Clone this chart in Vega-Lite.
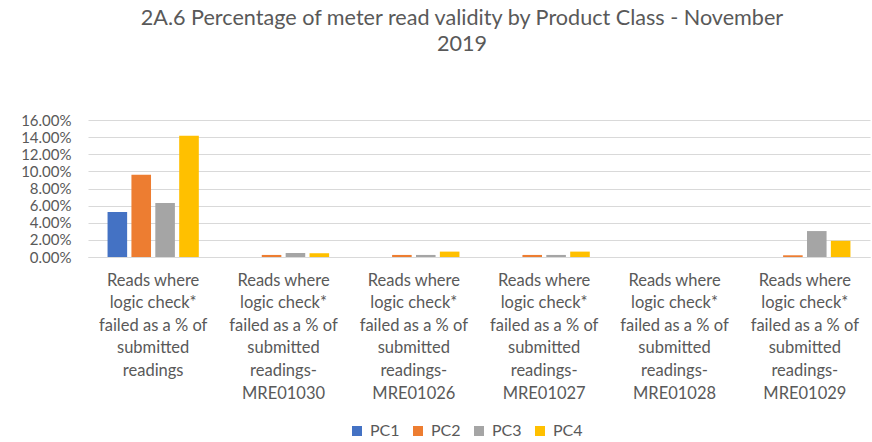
{
  "$schema": "https://vega.github.io/schema/vega-lite/v6.json",
  "width": 782,
  "height": 137,
  "autosize": {"type": "none"},
  "padding": {"left": 88, "top": 120, "right": 2, "bottom": 185},
  "background": "white",
  "config": {
    "font": "Lato",
    "view": {"stroke": null},
    "axis": {"labelFont": "Lato", "labelColor": "#595959"},
    "legend": {"labelFont": "Lato", "labelColor": "#595959"}
  },
  "title": {
    "text": ["2A.6 Percentage of meter read validity by Product Class - November", "2019"],
    "anchor": "middle",
    "frame": "group",
    "dx": -17,
    "offset": 57,
    "fontSize": 21.6,
    "fontWeight": "normal",
    "color": "#595959",
    "font": "Lato",
    "lineHeight": 26
  },
  "data": {
    "values": [
      {"cat": "Reads where|logic check*|failed as a % of|submitted|readings", "pc": "PC1", "value": 0.0527},
      {"cat": "Reads where|logic check*|failed as a % of|submitted|readings", "pc": "PC2", "value": 0.096},
      {"cat": "Reads where|logic check*|failed as a % of|submitted|readings", "pc": "PC3", "value": 0.063},
      {"cat": "Reads where|logic check*|failed as a % of|submitted|readings", "pc": "PC4", "value": 0.1415},
      {"cat": "Reads where|logic check*|failed as a % of|submitted|readings-|MRE01030", "pc": "PC1", "value": 0},
      {"cat": "Reads where|logic check*|failed as a % of|submitted|readings-|MRE01030", "pc": "PC2", "value": 0.0024},
      {"cat": "Reads where|logic check*|failed as a % of|submitted|readings-|MRE01030", "pc": "PC3", "value": 0.0047},
      {"cat": "Reads where|logic check*|failed as a % of|submitted|readings-|MRE01030", "pc": "PC4", "value": 0.0044},
      {"cat": "Reads where|logic check*|failed as a % of|submitted|readings-|MRE01026", "pc": "PC1", "value": 0},
      {"cat": "Reads where|logic check*|failed as a % of|submitted|readings-|MRE01026", "pc": "PC2", "value": 0.0024},
      {"cat": "Reads where|logic check*|failed as a % of|submitted|readings-|MRE01026", "pc": "PC3", "value": 0.0024},
      {"cat": "Reads where|logic check*|failed as a % of|submitted|readings-|MRE01026", "pc": "PC4", "value": 0.0063},
      {"cat": "Reads where|logic check*|failed as a % of|submitted|readings-|MRE01027", "pc": "PC1", "value": 0},
      {"cat": "Reads where|logic check*|failed as a % of|submitted|readings-|MRE01027", "pc": "PC2", "value": 0.0024},
      {"cat": "Reads where|logic check*|failed as a % of|submitted|readings-|MRE01027", "pc": "PC3", "value": 0.0024},
      {"cat": "Reads where|logic check*|failed as a % of|submitted|readings-|MRE01027", "pc": "PC4", "value": 0.0063},
      {"cat": "Reads where|logic check*|failed as a % of|submitted|readings-|MRE01028", "pc": "PC1", "value": 0},
      {"cat": "Reads where|logic check*|failed as a % of|submitted|readings-|MRE01028", "pc": "PC2", "value": 0},
      {"cat": "Reads where|logic check*|failed as a % of|submitted|readings-|MRE01028", "pc": "PC3", "value": 0},
      {"cat": "Reads where|logic check*|failed as a % of|submitted|readings-|MRE01028", "pc": "PC4", "value": 0},
      {"cat": "Reads where|logic check*|failed as a % of|submitted|readings-|MRE01029", "pc": "PC1", "value": 0},
      {"cat": "Reads where|logic check*|failed as a % of|submitted|readings-|MRE01029", "pc": "PC2", "value": 0.002},
      {"cat": "Reads where|logic check*|failed as a % of|submitted|readings-|MRE01029", "pc": "PC3", "value": 0.0303},
      {"cat": "Reads where|logic check*|failed as a % of|submitted|readings-|MRE01029", "pc": "PC4", "value": 0.0189}
    ]
  },
  "mark": {"type": "bar"},
  "encoding": {
    "x": {
      "field": "cat",
      "type": "nominal",
      "sort": null,
      "title": null,
      "scale": {"paddingInner": 0.3, "paddingOuter": 0.15},
      "axis": {
        "labelExpr": "split(datum.label, '|')",
        "labelAngle": 0,
        "labelFontSize": 16.5,
        "labelLineHeight": 22.6,
        "labelPadding": 15,
        "labelLimit": 0,
        "ticks": false,
        "domainColor": "#d9d9d9",
        "domainWidth": 1
      }
    },
    "xOffset": {
      "field": "pc",
      "type": "nominal",
      "scale": {"paddingInner": 0.18}
    },
    "y": {
      "field": "value",
      "type": "quantitative",
      "title": null,
      "scale": {"domain": [0, 0.16], "nice": false},
      "axis": {
        "values": [0, 0.02, 0.04, 0.06, 0.08, 0.1, 0.12, 0.14, 0.16],
        "format": ".2%",
        "labelFontSize": 15,
        "labelPadding": 17,
        "ticks": false,
        "domain": false,
        "gridColor": "#d9d9d9",
        "gridWidth": 1
      }
    },
    "color": {
      "field": "pc",
      "type": "nominal",
      "scale": {"domain": ["PC1", "PC2", "PC3", "PC4"], "range": ["#4472c4", "#ed7d31", "#a5a5a5", "#ffc000"]},
      "legend": {
        "title": null,
        "orient": "none",
        "direction": "horizontal",
        "legendX": 261,
        "legendY": 303,
        "symbolType": "square",
        "symbolSize": 100,
        "symbolStrokeWidth": 0,
        "labelFontSize": 16,
        "labelOffset": 5,
        "columnPadding": 10
      }
    }
  }
}
